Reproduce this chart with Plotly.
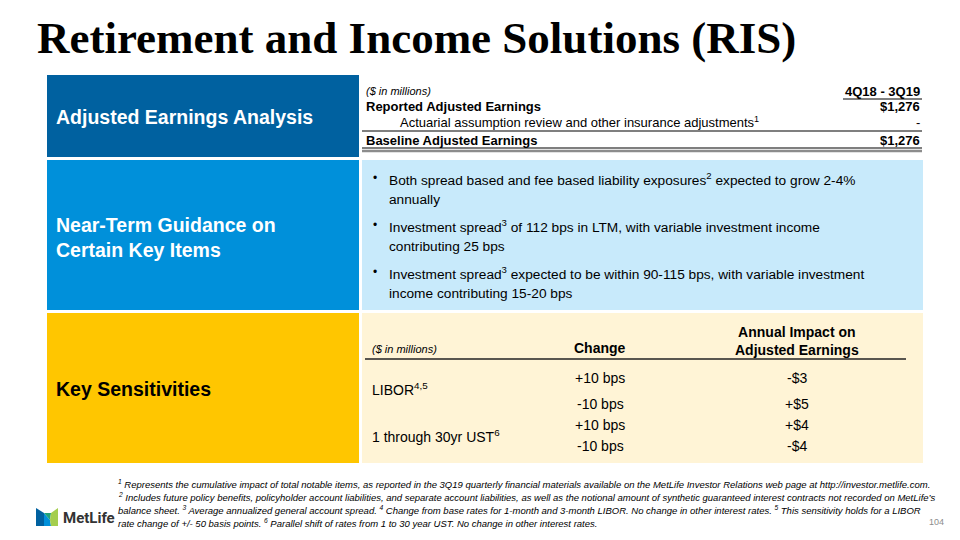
import plotly.graph_objects as go

# ---------------- data ----------------
title_text = "Retirement and Income Solutions (RIS)"
section_labels = ["Adjusted Earnings Analysis", "Near-Term Guidance on<br>Certain Key Items", "Key Sensitivities"]

ae_unit = "($ in millions)"
ae_period = "4Q18 - 3Q19"
ae_rows = ["Reported Adjusted Earnings",
           "Actuarial assumption review and other insurance adjustments<sup>1</sup>",
           "Baseline Adjusted Earnings"]
ae_values = ["$1,276", "-", "$1,276"]

guidance_bullets = [
    ["Both spread based and fee based liability exposures<sup>2</sup> expected to grow 2-4%", "annually"],
    ["Investment spread<sup>3</sup> of 112 bps in LTM, with variable investment income", "contributing 25 bps"],
    ["Investment spread<sup>3</sup> expected to be within 90-115 bps, with variable investment", "income contributing 15-20 bps"],
]

sens_unit = "($ in millions)"
sens_col_headers = ["Change", "Annual Impact on<br>Adjusted Earnings"]
sens_factors = ["LIBOR<sup>4,5</sup>", "1 through 30yr UST<sup>6</sup>"]
sens_changes = [["+10 bps", "-10 bps"], ["+10 bps", "-10 bps"]]
sens_impacts = [["-$3", "+$5"], ["+$4", "-$4"]]

footnotes = [
    "<sup>1</sup> Represents the cumulative impact of total notable items, as reported in the 3Q19 quarterly financial materials available on the MetLife Investor Relations web page at http://investor.metlife.com.",
    "<sup>2</sup> Includes future policy benefits, policyholder account liabilities, and separate account liabilities, as well as the notional amount of synthetic guaranteed interest contracts not recorded on MetLife’s",
    "balance sheet. <sup>3</sup> Average annualized general account spread. <sup>4</sup> Change from base rates for 1-month and 3-month LIBOR. No change in other interest rates. <sup>5</sup> This sensitivity holds for a LIBOR",
    "rate change of +/- 50 basis points. <sup>6</sup> Parallel shift of rates from 1 to 30 year UST. No change in other interest rates.",
]
page_number = "104"
brand = "MetLife"

# ---------------- styles ----------------
DARK_BLUE = "#0061A0"
MID_BLUE = "#0090DA"
YELLOW = "#FFC600"
LIGHT_BLUE = "#C8EAFB"
LIGHT_YELLOW = "#FFF4D6"
GREEN = "#A4CE4E"
SANS = "Liberation Sans, Arial, sans-serif"

# the page body has an 8px margin; shift the coordinate frame so that
# coordinates equal page pixels
OFF = 8
fig = go.Figure()
fig.update_layout(
    width=960, height=540, margin=dict(l=0, r=0, t=0, b=0),
    paper_bgcolor="white", plot_bgcolor="white", showlegend=False,
    xaxis=dict(range=[OFF, 960 + OFF], visible=False, fixedrange=True),
    yaxis=dict(range=[540 + OFF, OFF], visible=False, fixedrange=True),
)

shapes = []
def rect(x0, y0, x1, y1, color):
    shapes.append(dict(type="rect", x0=x0, y0=y0, x1=x1, y1=y1, xref="x", yref="y",
                       fillcolor=color, line=dict(width=0), layer="below"))
def hline(x0, x1, y, color="black", width=1):
    shapes.append(dict(type="line", x0=x0, x1=x1, y0=y, y1=y, xref="x", yref="y",
                       line=dict(color=color, width=width)))

# panels
panel_y = [(75, 157), (160, 310), (313, 463)]
left_colors = [DARK_BLUE, MID_BLUE, YELLOW]
right_colors = ["white", LIGHT_BLUE, LIGHT_YELLOW]
for (y0, y1), lc, rc in zip(panel_y, left_colors, right_colors):
    rect(47, y0, 359, y1, lc)
    rect(362, y0, 923, y1, rc)

ann = []
def text(x, y, s, size=13, color="black", xanchor="left", family=SANS, bold=False, italic=False):
    if bold:
        s = "<b>" + s + "</b>"
    if italic:
        s = "<i>" + s + "</i>"
    ann.append(dict(x=x, y=y, xref="x", yref="y", text=s, showarrow=False,
                    xanchor=xanchor, yanchor="middle", align=xanchor if xanchor != "center" else "center",
                    font=dict(size=size, color=color, family=family)))

# title
text(35, 38, title_text, size=45, family="Liberation Serif, Times New Roman, serif", bold=True)

# section labels
label_colors = ["white", "white", "black"]
label_y = [117, 237, 389]
for lab, c, y in zip(section_labels, label_colors, label_y):
    text(54, y, lab, size=19.5, color=c, bold=True)

# adjusted earnings table
text(364, 91, ae_unit, size=11, italic=True)
text(922, 91, ae_period, size=13, xanchor="right", bold=True)
hline(843, 922, 99, width=1)
ae_y = [106, 122, 140]
ae_x = [364, 398, 364]
ae_bold = [True, False, True]
for r, v, y, x, b in zip(ae_rows, ae_values, ae_y, ae_x, ae_bold):
    text(x, y, r, size=13, bold=b)
    text(922, y, v, size=13, xanchor="right", bold=b)
hline(362, 922, 131, width=1.2)
hline(362, 922, 148, width=1.2)
hline(362, 922, 151, color="#8C8C8C", width=2.5)

# guidance bullets
line_y = [[179, 199], [226, 246], [273, 293]]
for bl, ys in zip(guidance_bullets, line_y):
    text(371, ys[0] - 1, "•", size=12)
    for ln, y in zip(bl, ys):
        text(387, y, ln, size=13.7)

# sensitivities
text(370, 349, sens_unit, size=11, italic=True)
col_x = [600, 797]
text(col_x[0], 348, sens_col_headers[0], size=14, xanchor="center", bold=True)
text(col_x[1], 341, sens_col_headers[1], size=14, xanchor="center", bold=True)
hline(365, 906, 359, color="#222222", width=1.5)
factor_y = [389, 436]
row_y = [[378, 404], [425, 446]]
for f, fy, ch, im, ys in zip(sens_factors, factor_y, sens_changes, sens_impacts, row_y):
    text(370, fy, f, size=14)
    for c, i, y in zip(ch, im, ys):
        text(col_x[0], y, c, size=14, xanchor="center")
        text(col_x[1], y, i, size=14, xanchor="center")

# footnotes
fn_y = [484, 497, 510, 523]
for fn, y in zip(footnotes, fn_y):
    text(116, y, fn, size=9.5, italic=True)
text(946, 522, page_number, size=9, color="#8C8C8C", xanchor="right")

# logo
shapes.append(dict(type="path", path="M 36 508 L 44 513 L 44 526 L 36 526 Z",
                   fillcolor=DARK_BLUE, line=dict(width=0), xref="x", yref="y"))
shapes.append(dict(type="path", path="M 44 513 L 50 520 L 51 526 L 44 526 Z",
                   fillcolor=MID_BLUE, line=dict(width=0), xref="x", yref="y"))
shapes.append(dict(type="path", path="M 44 513 L 50 520 L 51 513 Z",
                   fillcolor="#1FA37A", line=dict(width=0), xref="x", yref="y"))
shapes.append(dict(type="path", path="M 50 520 L 51 513 L 58 508 L 58 526 L 51 526 Z",
                   fillcolor=GREEN, line=dict(width=0), xref="x", yref="y"))
text(61, 518, brand, size=15, color="#333333", bold=True,
     family="Roboto, Noto Sans, sans-serif")

fig.update_layout(shapes=shapes, annotations=ann)
fig.write_html("out.html")
